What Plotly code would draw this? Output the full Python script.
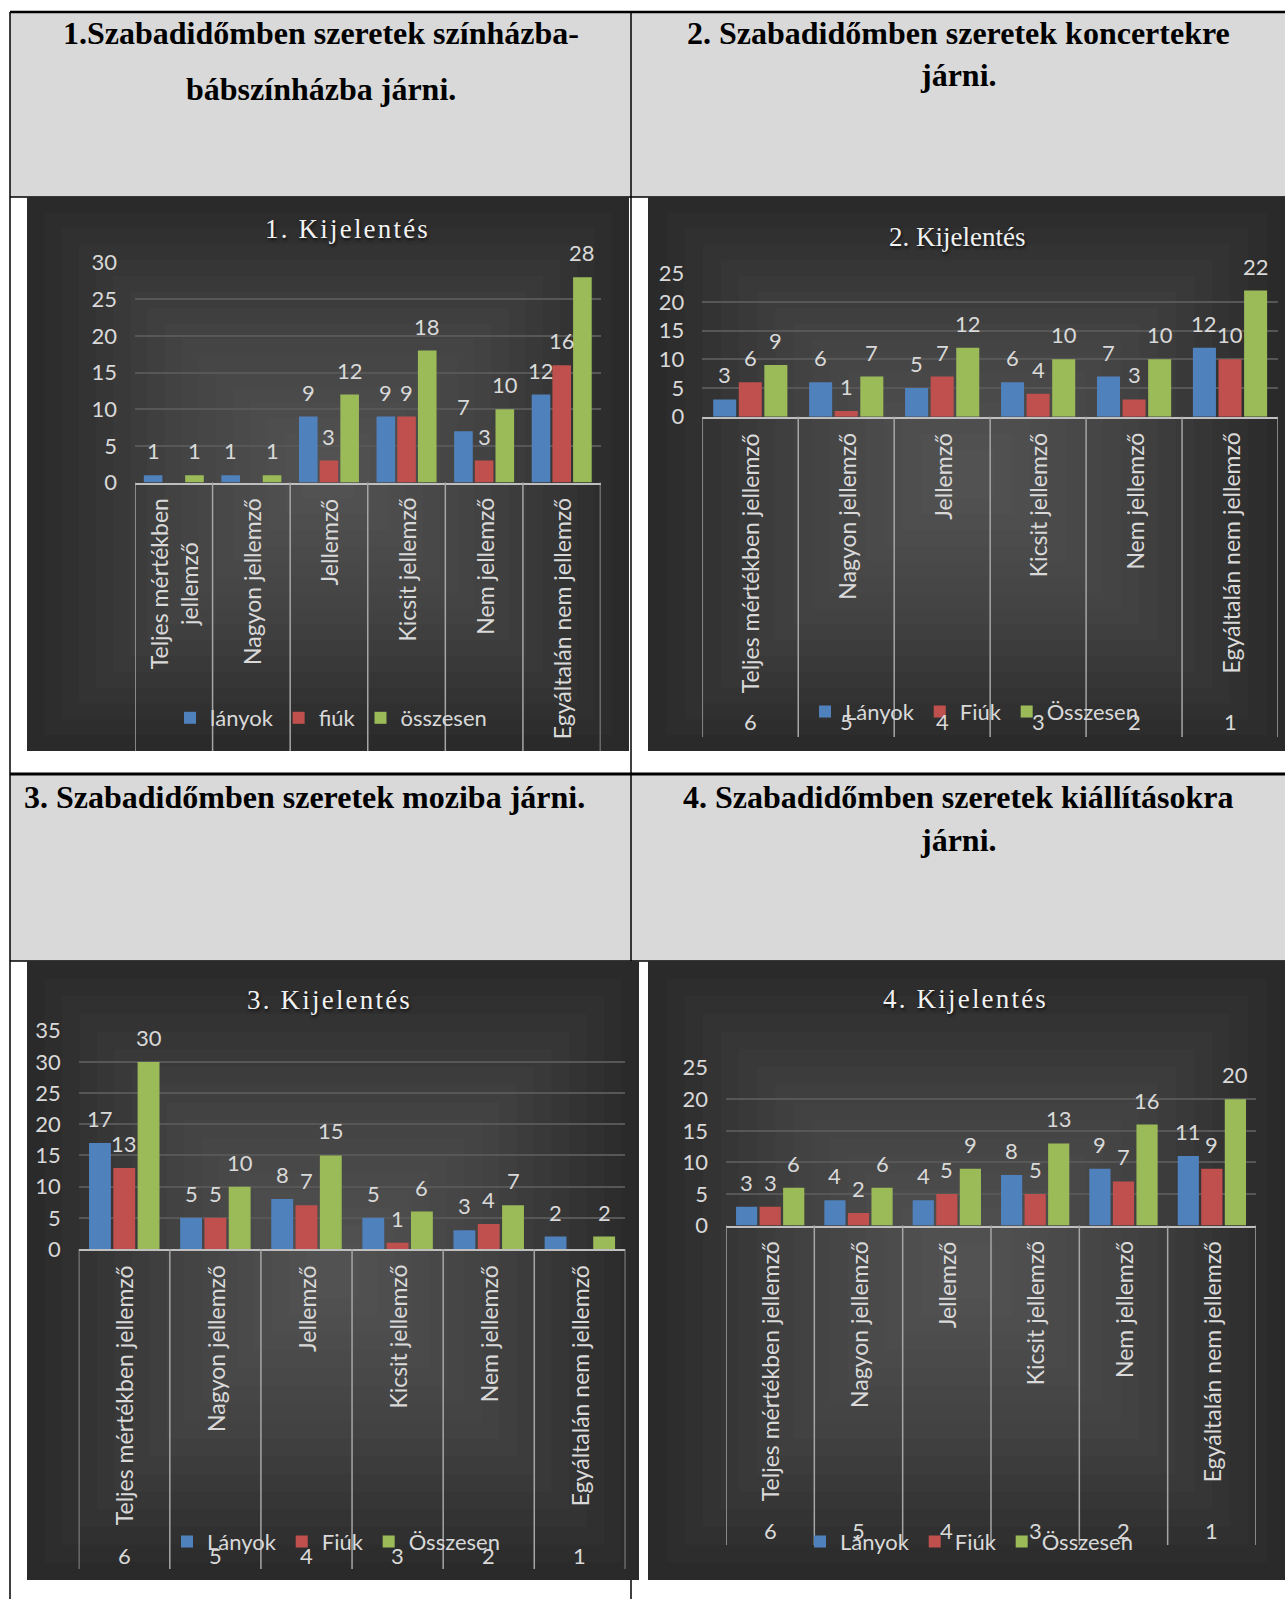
import plotly.graph_objects as go

W, H = 1285, 1599

# ---------------- data ----------------
categories = ["Teljes mértékben jellemző", "Nagyon jellemző", "Jellemző",
              "Kicsit jellemző", "Nem jellemző", "Egyáltalán nem jellemző"]
categories_chart1 = ["Teljes mértékben<br>jellemző", "Nagyon jellemző", "Jellemző",
                     "Kicsit jellemző", "Nem jellemző", "Egyáltalán nem jellemző"]
category_codes = ["6", "5", "4", "3", "2", "1"]

series_names_1 = ["lányok", "fiúk", "összesen"]
series_names = ["Lányok", "Fiúk", "Összesen"]

c1_lanyok = [1, 1, 9, 9, 7, 12]
c1_fiuk = [0, 0, 3, 9, 3, 16]
c1_osszesen = [1, 1, 12, 18, 10, 28]

c2_lanyok = [3, 6, 5, 6, 7, 12]
c2_fiuk = [6, 1, 7, 4, 3, 10]
c2_osszesen = [9, 7, 12, 10, 10, 22]

c3_lanyok = [17, 5, 8, 5, 3, 2]
c3_fiuk = [13, 5, 7, 1, 4, 0]
c3_osszesen = [30, 10, 15, 6, 7, 2]

c4_lanyok = [3, 4, 4, 8, 9, 11]
c4_fiuk = [3, 2, 5, 5, 7, 9]
c4_osszesen = [6, 6, 9, 13, 16, 20]

y_max = [30, 25, 35, 25]
chart_titles = ["1. Kijelentés", "2. Kijelentés", "3. Kijelentés", "4. Kijelentés"]

header_1 = ["1.Szabadidőmben szeretek színházba-", "bábszínházba járni."]
header_2 = ["2. Szabadidőmben szeretek koncertekre", "járni."]
header_3 = ["3. Szabadidőmben szeretek moziba járni."]
header_4 = ["4. Szabadidőmben szeretek kiállításokra", "járni."]

# ---------------- styles / geometry ----------------
COLORS = ["#4f81bd", "#c0504d", "#9bbb59"]
TXT = "#d9d9d9"
SANS = "Lato"
SERIF = "Liberation Serif"
BARGAP = 0.2


def fx(p):
    return p / W


def fy(p):
    return 1 - p / H


charts = [
    dict(data=[c1_lanyok, c1_fiuk, c1_osszesen], names=series_names_1, labels=categories_chart1,
         codes=None, bg=(27, 197, 629, 751), px=(135, 600.5), zero=482.5, top=262.7,
         sep_bottom=751, label_top=496, code_y=None, legend=(331, 718), title=(347.6, 229.3),
         title_size=27, spacing=2.2),
    dict(data=[c2_lanyok, c2_fiuk, c2_osszesen], names=series_names, labels=categories,
         codes=category_codes, bg=(648, 197, 1285, 751), px=(702.3, 1278), zero=416.7, top=273.3,
         sep_bottom=737, label_top=431, code_y=721.7, legend=(974, 711.7), title=(957, 236.7),
         title_size=27, spacing=0),
    dict(data=[c3_lanyok, c3_fiuk, c3_osszesen], names=series_names, labels=categories,
         codes=category_codes, bg=(27, 961, 639, 1580), px=(78.7, 625.4), zero=1249, top=1030.7,
         sep_bottom=1569, label_top=1263, code_y=1555, legend=(336, 1541.7), title=(329, 1000),
         title_size=27, spacing=2.2),
    dict(data=[c4_lanyok, c4_fiuk, c4_osszesen], names=series_names, labels=categories,
         codes=category_codes, bg=(648, 961, 1285, 1580), px=(726, 1256), zero=1225.6, top=1067.7,
         sep_bottom=1545, label_top=1239, code_y=1530, legend=(969, 1541.7), title=(965, 999.3),
         title_size=27, spacing=2.2),
]

fig = go.Figure()
shapes = []
annotations = []
layout_extra = {}

# ---- table: gray header cells ----
for (x0, y0, x1, y1) in [(10, 12, 631, 197), (631, 12, 1285, 197),
                         (10, 774, 631, 961), (631, 774, 1285, 961)]:
    shapes.append(dict(type="rect", xref="paper", yref="paper", x0=fx(x0), x1=fx(x1),
                       y0=fy(y0), y1=fy(y1), fillcolor="#d9d9d9", line=dict(width=0), layer="below"))

# ---- table lines ----
def hline(y, x0, x1, w):
    shapes.append(dict(type="line", xref="paper", yref="paper", x0=fx(x0), x1=fx(x1),
                       y0=fy(y), y1=fy(y), line=dict(color="black", width=w), layer="below"))


def vline(x, y0, y1, w):
    shapes.append(dict(type="line", xref="paper", yref="paper", x0=fx(x), x1=fx(x),
                       y0=fy(y0), y1=fy(y1), line=dict(color="black", width=w), layer="below"))


hline(12, 10, 1285, 2.5)
hline(197, 10, 1285, 1.5)
hline(774, 10, 1285, 3)
hline(961, 10, 1285, 1.5)
vline(10, 12, 1599, 1.5)
vline(631, 12, 1599, 1.5)

# ---- chart backgrounds (stepped radial-ish gradient) ----
for ch in charts:
    x0, y0, x1, y1 = ch["bg"]
    shapes.append(dict(type="rect", xref="paper", yref="paper", x0=fx(x0), x1=fx(x1),
                       y0=fy(y0), y1=fy(y1), fillcolor="#2a2a2a", line=dict(width=0), layer="below"))
    n = 16
    for k in range(1, n + 1):
        t = k / (n + 1) * 0.97
        ix = (x1 - x0) / 2 * t
        iy = (y1 - y0) / 2 * t
        shapes.append(dict(type="rect", xref="paper", yref="paper", x0=fx(x0 + ix), x1=fx(x1 - ix),
                           y0=fy(y0 + iy), y1=fy(y1 - iy), fillcolor="rgba(255,255,255,0.016)",
                           line=dict(width=0), layer="below"))

# ---- headers ----
def header(lines, xs, ys, anchor):
    for line, y in zip(lines, ys):
        annotations.append(dict(text=line, xref="paper", yref="paper", x=fx(xs), y=fy(y),
                                xanchor=anchor, yanchor="middle", showarrow=False,
                                font=dict(family=SERIF, size=32, color="black", weight="bold")))


header(header_1, 320.5, [32.6, 88.8], "center")
header(header_2, 958, [32.6, 74.5], "center")
header(header_3, 22, [796.7], "left")
header(header_4, 958, [796.7, 840], "center")

# ---- charts ----
for i, ch in enumerate(charts):
    n = i + 1
    xa = "x" if n == 1 else f"x{n}"
    ya = "y" if n == 1 else f"y{n}"
    lg = "legend" if n == 1 else f"legend{n}"
    xkey = "xaxis" if n == 1 else f"xaxis{n}"
    ykey = "yaxis" if n == 1 else f"yaxis{n}"
    px0, px1 = ch["px"]
    cat_px = (px1 - px0) / len(categories)
    slot = cat_px * (1 - BARGAP) / 3

    for j, (vals, name) in enumerate(zip(ch["data"], ch["names"])):
        fig.add_trace(go.Bar(x=categories, y=vals, name=name, marker_color=COLORS[j],
                             marker_line_width=0, xaxis=xa, yaxis=ya, legend=lg,
                             hoverinfo="skip"))
        for c, v in zip(categories, vals):
            if v:
                annotations.append(dict(text=str(v), xref=xa, yref=ya, x=c, y=v,
                                        xanchor="center", yanchor="bottom", showarrow=False,
                                        xshift=(j - 1) * slot, yshift=9,
                                        font=dict(family=SANS, size=22, color=TXT)))

    layout_extra[xkey] = dict(domain=[fx(px0), fx(px1)], anchor=ya, type="category",
                              categoryorder="array", categoryarray=categories,
                              range=[-0.5, len(categories) - 0.5], showticklabels=False,
                              showgrid=False, zeroline=False, showline=True, automargin=False,
                              linecolor="#bfbfbf", linewidth=2, ticks="", fixedrange=True)
    layout_extra[ykey] = dict(domain=[fy(ch["zero"]), fy(ch["top"])], anchor=xa,
                              range=[0, y_max[i]], dtick=5, showgrid=True, gridcolor="#575757",
                              gridwidth=1.5, zeroline=False, showline=False, ticks="",
                              ticklabelstandoff=17, automargin=False,
                              tickfont=dict(family=SANS, size=22, color=TXT), fixedrange=True)
    lx, ly = ch["legend"]
    layout_extra[lg] = dict(x=fx(lx), y=fy(ly), xanchor="center", yanchor="middle",
                            orientation="h", bgcolor="rgba(0,0,0,0)", itemwidth=30,
                            font=dict(family=SANS, size=22, color=TXT), traceorder="normal",
                            itemclick=False, itemdoubleclick=False)

    # separators
    for k in range(len(categories) + 1):
        shapes.append(dict(type="line", xref=xa, yref="paper", x0=k - 0.5, x1=k - 0.5,
                           y0=fy(ch["zero"]), y1=fy(ch["sep_bottom"]),
                           line=dict(color="#a6a6a6", width=1.5)))
    # category labels
    for c, lab in zip(categories, ch["labels"]):
        annotations.append(dict(text=lab, xref=xa, yref="paper", x=c, y=fy(ch["label_top"]),
                                xanchor="center", yanchor="top", textangle=-90, showarrow=False,
                                font=dict(family=SANS, size=23, color=TXT)))
    # codes
    if ch["codes"]:
        for c, code in zip(categories, ch["codes"]):
            annotations.append(dict(text=code, xref=xa, yref="paper", x=c, y=fy(ch["code_y"]),
                                    xanchor="center", yanchor="middle", showarrow=False,
                                    font=dict(family=SANS, size=22, color=TXT)))
    # title
    tx, ty = ch["title"]
    ttext = chart_titles[i]
    if ch["spacing"]:
        ttext = f"<span style='letter-spacing:{ch['spacing']}px'>{ttext}</span>"
    annotations.append(dict(text=ttext, xref="paper", yref="paper", x=fx(tx), y=fy(ty),
                            xanchor="center", yanchor="middle", showarrow=False,
                            font=dict(family=SERIF, size=ch["title_size"], color="#f2f2f2",
                                      shadow="1px 2px 3px #111111")))

fig.update_layout(
    width=W, height=H, margin=dict(l=0, r=0, t=0, b=0, pad=0, autoexpand=False),
    paper_bgcolor="white", plot_bgcolor="rgba(0,0,0,0)",
    barmode="group", bargap=BARGAP, bargroupgap=0.1,
    shapes=shapes, annotations=annotations, showlegend=True,
    **layout_extra,
)

fig.write_html("out.html", post_script="document.body.style.margin='0';",
               config={"displayModeBar": False})
